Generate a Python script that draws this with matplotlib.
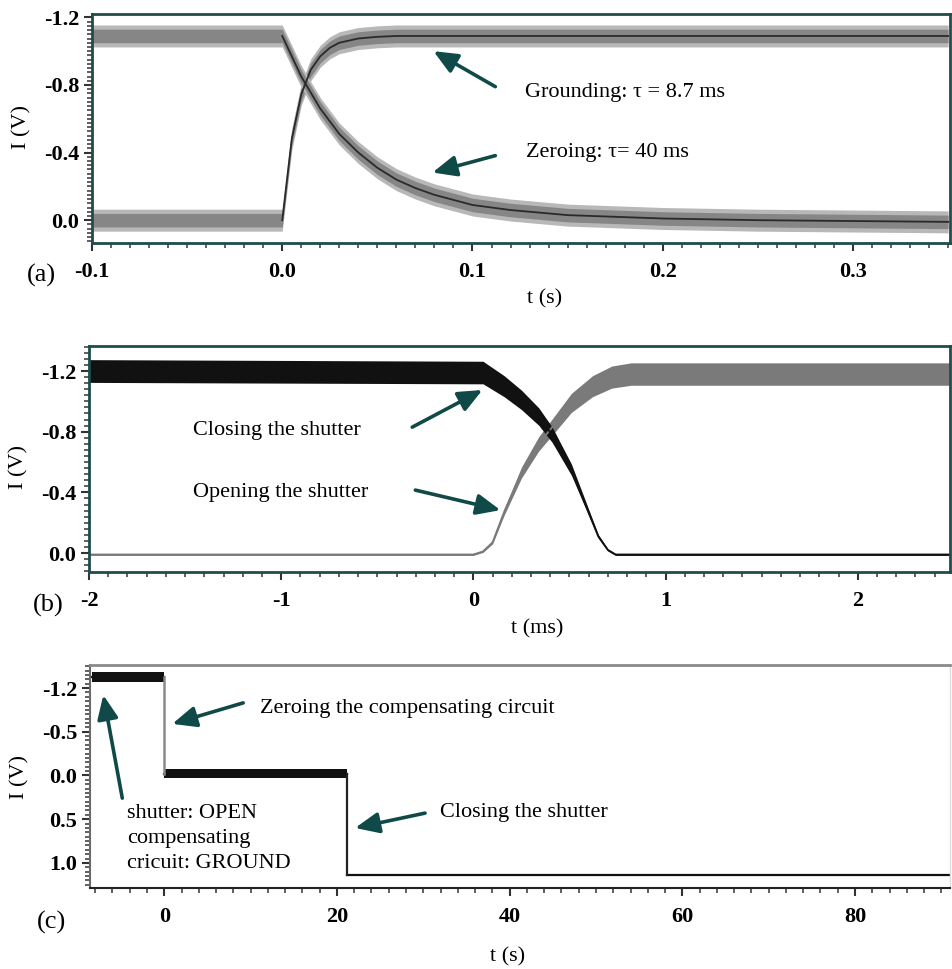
import numpy as np
import matplotlib
matplotlib.use("Agg")
import matplotlib.pyplot as plt
from matplotlib.ticker import MultipleLocator, FixedLocator, FixedFormatter

plt.rcParams["font.family"] = ["Liberation Serif", "DejaVu Serif"]
plt.rcParams["axes.unicode_minus"] = False

# (a) grounding / zeroing, t in s
a_t_ground = [-0.1, 0.0, 0.005, 0.01, 0.015, 0.02, 0.025, 0.03, 0.04, 0.05, 0.06, 0.35]
a_i_ground = [0.0, 0.0, -0.48, -0.745, -0.89, -0.97, -1.02, -1.05, -1.075, -1.085, -1.09, -1.09]
a_t_zero = [-0.1, 0.0, 0.01, 0.02, 0.03, 0.04, 0.05, 0.06, 0.07, 0.08, 0.1, 0.12, 0.15, 0.2, 0.25, 0.35]
a_i_zero = [-1.09, -1.09, -0.85, -0.66, -0.51, -0.40, -0.31, -0.24, -0.19, -0.15, -0.09, -0.06, -0.03, -0.01, 0.0, 0.01]

# (b) shutter, t in ms
b_t_close = [-2.0, 0.05, 0.16, 0.25, 0.34, 0.41, 0.51, 0.58, 0.65, 0.70, 0.74, 2.48]
b_i_close = [-1.2, -1.19, -1.1, -1.01, -0.90, -0.78, -0.55, -0.33, -0.11, -0.02, 0.01, 0.01]
b_t_open = [-2.0, 0.0, 0.05, 0.10, 0.16, 0.25, 0.34, 0.41, 0.51, 0.62, 0.72, 0.82, 2.48]
b_i_open = [0.01, 0.01, -0.01, -0.07, -0.27, -0.53, -0.72, -0.83, -0.99, -1.10, -1.16, -1.18, -1.18]

# (c) steps, t in s
c_edges = [-8.4, 0.0, 21.2, 91.0]
c_levels = [-1.126, -0.02, 1.14]
c_ytick_pos = [-1.0, -0.5, 0.0, 0.5, 1.0]
c_ytick_lab = ["-1.2", "-0.5", "0.0", "0.5", "1.0"]

W, H = 953, 969
fig = plt.figure(figsize=(W / 100, H / 100), dpi=100)
teal = "#1e4d4b"
arrow_col = "#0f4a48"
fs_txt = 16

def ax_box(l, t, r, b):
    return fig.add_axes([l / W, 1 - b / H, (r - l) / W, (b - t) / H])

def style(ax, spine_col=teal):
    for s in ax.spines.values():
        s.set_color(spine_col)
        s.set_linewidth(2)
    ax.tick_params(which="major", direction="out", length=6, width=1.5, color="#333333",
                   labelsize=16)
    ax.tick_params(which="minor", direction="out", length=3.5, width=1.2, color="#444444")
    ax.tick_params(axis="x", pad=8)
    ax.tick_params(axis="y", pad=3)
    for lab in ax.get_xticklabels() + ax.get_yticklabels():
        lab.set_fontweight("bold")

def arrow(ax, tail, head):
    ax.annotate("", xy=head, xytext=tail,
                arrowprops=dict(arrowstyle="-|>,head_length=0.8,head_width=0.35",
                                lw=2.6, color=arrow_col, mutation_scale=18,
                                shrinkA=0, shrinkB=0))

# ---------- (a)
ax = ax_box(92, 14, 950, 243)
for t, v in [(a_t_ground, a_i_ground), (a_t_zero, a_i_zero)]:
    t = np.array(t); v = np.array(v)
    ax.fill_between(t, v - 0.065, v + 0.065, color="#b8b8b8", lw=0)
    ax.fill_between(t, v - 0.04, v + 0.04, color="#868686", lw=0)
    m = t >= 0
    ax.plot(t[m], v[m], color="#2a2a2a", lw=1.3)
ax.set_xlim(-0.1, 0.351)
ax.set_ylim(0.135, -1.22)
ax.xaxis.set_major_locator(MultipleLocator(0.1))
ax.xaxis.set_minor_locator(MultipleLocator(0.01))
ax.yaxis.set_major_locator(MultipleLocator(0.4))
ax.yaxis.set_minor_locator(MultipleLocator(0.025))
ax.xaxis.set_major_formatter(plt.FormatStrFormatter("%.1f"))
ax.yaxis.set_major_formatter(plt.FormatStrFormatter("%.1f"))
style(ax)
ax.set_xlabel("t (s)", fontsize=fs_txt)
ax.xaxis.set_label_coords(0.528, -0.2)
ax.set_ylabel("I (V)", fontsize=fs_txt)
ax.yaxis.set_label_coords(-0.07, 0.507)
arrow(ax, (0.112, -0.79), (0.0795, -1.0))
arrow(ax, (0.112, -0.382), (0.079, -0.282))
ax.text(0.1274, -0.753, "Grounding: τ = 8.7 ms", fontsize=fs_txt, va="center", ha="left")
ax.text(0.1279, -0.40, "Zeroing: τ= 40 ms", fontsize=fs_txt, va="center", ha="left")
fig.text(41 / W, 1 - 275 / H, "(a)", fontsize=19, ha="center", va="center")

# ---------- (b)
ax = ax_box(89, 346, 950, 572)
for t, v, col in [(b_t_open, b_i_open, "#7a7a7a"), (b_t_close, b_i_close, "#111111")]:
    t = np.array(t); v = np.array(v)
    hw = 0.07 * np.abs(v) / 1.2 + 0.005
    ax.fill_between(t, v - hw, v + hw, color=col, lw=0)
    ax.plot(t, v, color=col, lw=1.4)
ax.set_xlim(-2, 2.48)
ax.set_ylim(0.125, -1.365)
ax.xaxis.set_major_locator(MultipleLocator(1))
ax.xaxis.set_minor_locator(MultipleLocator(0.1))
ax.yaxis.set_major_locator(MultipleLocator(0.4))
ax.yaxis.set_minor_locator(MultipleLocator(0.04))
ax.yaxis.set_major_formatter(plt.FormatStrFormatter("%.1f"))
style(ax)
ax.set_xlabel("t (ms)", fontsize=fs_txt)
ax.xaxis.set_label_coords(0.52, -0.21)
ax.set_ylabel("I (V)", fontsize=fs_txt)
ax.yaxis.set_label_coords(-0.07, 0.465)
ax.text(-1.458, -0.81, "Closing the shutter", fontsize=fs_txt, va="center", ha="left")
ax.text(-1.458, -0.40, "Opening the shutter", fontsize=fs_txt, va="center", ha="left")
arrow(ax, (-0.318, -0.83), (0.047, -1.075))
arrow(ax, (-0.302, -0.415), (0.141, -0.283))
fig.text(48 / W, 1 - 605 / H, "(b)", fontsize=19, ha="center", va="center")

# ---------- (c)
ax = ax_box(90, 665, 950, 888)
noise_c = [0.055, 0.05, 0.0]
for i, lev in enumerate(c_levels):
    t0, t1 = c_edges[i], c_edges[i + 1]
    if noise_c[i] > 0:
        ax.fill_between([t0, t1], lev - noise_c[i], lev + noise_c[i], color="#111111", lw=0)
    ax.plot([t0, t1], [lev, lev], color="#111111", lw=1.6)
ax.plot([c_edges[1], c_edges[1]], [c_levels[0], c_levels[1]], color="#8a8a8a", lw=1.8)
ax.plot([c_edges[2], c_edges[2]], [c_levels[1], c_levels[2]], color="#222222", lw=1.6)
ax.set_xlim(-8.6, 91)
ax.set_ylim(1.286, -1.263)
ax.xaxis.set_major_locator(MultipleLocator(20))
ax.xaxis.set_minor_locator(MultipleLocator(2))
ax.yaxis.set_major_locator(FixedLocator(c_ytick_pos))
ax.yaxis.set_major_formatter(FixedFormatter(c_ytick_lab))
ax.yaxis.set_minor_locator(MultipleLocator(0.05))
style(ax)
ax.spines["top"].set_color("#8a8a8a")
ax.spines["left"].set_color("#6a6a6a")
ax.spines["left"].set_linewidth(1.5)
ax.spines["bottom"].set_color("#222222")
ax.spines["bottom"].set_linewidth(1.5)
ax.spines["right"].set_color("#dddddd")
ax.spines["right"].set_linewidth(1)
ax.set_xlabel("t (s)", fontsize=fs_txt)
ax.xaxis.set_label_coords(0.486, -0.265)
ax.set_ylabel("I (V)", fontsize=fs_txt)
ax.yaxis.set_label_coords(-0.07, 0.498)
ax.text(11.1, -0.771, "Zeroing the compensating circuit", fontsize=fs_txt, va="center", ha="left")
ax.text(31.9, 0.419, "Closing the shutter", fontsize=fs_txt, va="center", ha="left")
ax.text(-4.28, 0.33, "shutter: OPEN\ncompensating\ncricuit: GROUND", fontsize=fs_txt,
        va="top", ha="left", linespacing=1.4)
arrow(ax, (9.14, -0.83), (0.93, -0.59))
arrow(ax, (30.2, 0.43), (22.1, 0.60))
arrow(ax, (-4.86, 0.259), (-7.06, -0.92))
fig.text(52 / W, 1 - 922 / H, "(c)", fontsize=19, ha="center", va="center")

fig.savefig("out.png", dpi=100)
